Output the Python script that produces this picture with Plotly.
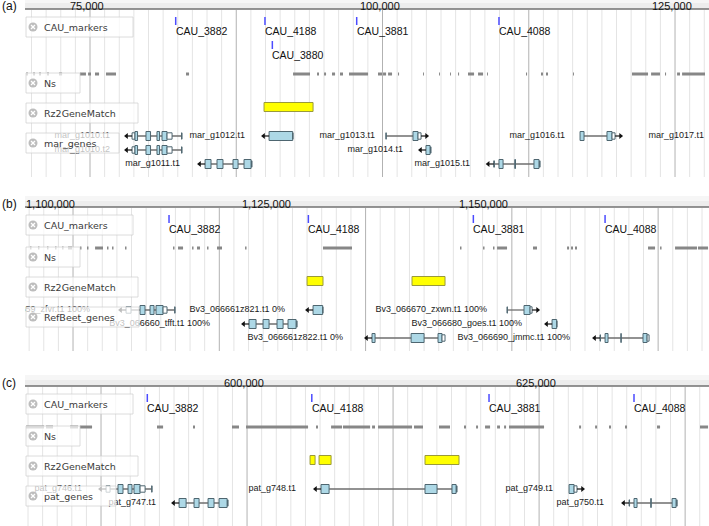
import math
import plotly.graph_objects as go

W, H = 709, 526
PANEL_LEFT = 25  # px where the genome view starts

# ---------------- data ----------------
panel_titles = ["(a)", "(b)", "(c)"]
view_start = [69700, 1097110, 581250]
view_end = [128160, 1176090, 639800]
ruler_ticks = [[75000, 100000, 125000], [1100000, 1125000, 1150000], [600000, 625000]]
ruler_labels = [["75,000", "100,000", "125,000"],
                ["1,100,000", "1,125,000", "1,150,000"],
                ["600,000", "625,000"]]
gene_tracks = ["mar_genes", "RefBeet_genes", "pat_genes"]

marker_names = [
    ["CAU_3882", "CAU_4188", "CAU_3880", "CAU_3881", "CAU_4088"],
    ["CAU_3882", "CAU_4188", "CAU_3881", "CAU_4088"],
    ["CAU_3882", "CAU_4188", "CAU_3881", "CAU_4088"],
]
marker_pos = [
    [82580, 90210, 90840, 98050, 110210],
    [1113740, 1129830, 1148880, 1164090],
    [591720, 605800, 620970, 633380],
]
marker_row = [[0, 0, 1, 0, 0], [0, 0, 0, 0], [0, 0, 0, 0]]

ns_a = [(69790, 69960), (70390, 70560), (70900, 71070), (71580, 71750), (72610, 72870),
        (74400, 74910), (75090, 75340), (75680, 76030), (76620, 77480), (83460, 83720),
        (92610, 94060), (94660, 94830), (95260, 95430), (95940, 96200), (96620, 96880),
        (97390, 99020), (99870, 100210), (100300, 100560), (100730, 101070), (101580, 101670),
        (103720, 103800), (105090, 105170), (106030, 106110), (106710, 106800), (107560, 108080),
        (108420, 108850), (109190, 109270), (112520, 112610), (113800, 113970), (114230, 114400),
        (116540, 116620), (121580, 122950), (123210, 123970), (124400, 124490), (125430, 125680),
        (125860, 127820)]
ns_b = [(1097690, 1097860), (1098610, 1098780), (1099650, 1099820), (1100580, 1100750),
        (1101390, 1101560), (1102080, 1102540), (1103460, 1103630), (1104270, 1104440),
        (1105200, 1106120), (1106580, 1106750), (1107160, 1107330), (1108660, 1108830),
        (1114200, 1114370), (1114780, 1115360), (1116400, 1116570), (1116970, 1117320),
        (1118130, 1118300), (1119280, 1119860), (1122520, 1122690), (1131520, 1134870),
        (1147340, 1147510), (1150000, 1150170), (1151150, 1151320), (1151620, 1152770),
        (1155770, 1156230), (1159700, 1159930), (1160160, 1160390), (1160620, 1160850),
        (1169050, 1169860), (1170440, 1170610), (1172170, 1174710), (1174820, 1175980)]
ns_c = [(581340, 582880), (583050, 583650), (585110, 585790), (585960, 586990),
        (592550, 593070), (595630, 595800), (598970, 599570), (600170, 605480),
        (606160, 606330), (607450, 608390), (608470, 610790), (610960, 611210),
        (611470, 614380), (614550, 615320), (616690, 617630), (618830, 619000),
        (619860, 620030), (620630, 621060), (621660, 621910), (622260, 622430),
        (622680, 625680), (628680, 628850), (630050, 630220), (631240, 631410),
        (632610, 632780), (635350, 635610), (639030, 639720)]
ns_segments = [ns_a, ns_b, ns_c]

rz2_matches = [
    [(90130, 94320)],
    [(1129680, 1131520), (1141800, 1145610)],
    [(605650, 606080), (606420, 607450), (615490, 618400)],
]

# genes: name, row, strand, label end, exons (kind C=CDS / U=UTR, start, end)
genes_a = [
    dict(name="mar_g1010.t1", row=0, strand="-", label_end=76970,
         exons=[("U", 78850, 79100), ("C", 79100, 79320), ("C", 80040, 80430), ("C", 80980, 81200),
                ("C", 81410, 81840), ("U", 81840, 82270), ("U", 83080, 83120)]),
    dict(name="mar_g1010.t2", row=1, strand="-", label_end=76970,
         exons=[("U", 78850, 79100), ("C", 79100, 79320), ("C", 80040, 80430), ("C", 80980, 81200),
                ("C", 81410, 81840), ("U", 81840, 82270), ("U", 83080, 83120)]),
    dict(name="mar_g1012.t1", row=0, strand="-", label_end=88500,
         exons=[("C", 90560, 92580), ("U", 92570, 92610)]),
    dict(name="mar_g1013.t1", row=0, strand="+", label_end=99620,
         exons=[("U", 100540, 100580), ("C", 102860, 103290), ("U", 103290, 103550)]),
    dict(name="mar_g1014.t1", row=1, strand="-", label_end=102010,
         exons=[("C", 103970, 104320), ("U", 104360, 104400)]),
    dict(name="mar_g1011.t1", row=2, strand="-", label_end=82950,
         exons=[("C", 85090, 85600), ("C", 86110, 86620), ("C", 87480, 87910),
                ("C", 88420, 89020), ("U", 89060, 89100)]),
    dict(name="mar_g1015.t1", row=2, strand="-", label_end=107740,
         exons=[("U", 109760, 109820), ("C", 110210, 110560), ("C", 111560, 111620),
                ("C", 113200, 113630), ("U", 113680, 113720)]),
    dict(name="mar_g1016.t1", row=0, strand="+", label_end=115860,
         exons=[("C", 117140, 117480), ("C", 119440, 119870), ("U", 119870, 120130)]),
    dict(name="mar_g1017.t1", row=0, strand="+", label_end=127740,
         exons=[("C", 129000, 129500), ("C", 131000, 131400)]),
]
genes_b = [
    dict(name="Bv3_066659_zfvr.t1 100%", row=0, strand="-", label_end=1104620,
         exons=[("U", 1108780, 1109350), ("C", 1110390, 1110970), ("C", 1111550, 1112010),
                ("C", 1112240, 1113050), ("U", 1113050, 1113510), ("U", 1114390, 1114440)]),
    dict(name="Bv3_066661z821.t1 0%", row=0, strand="-", label_end=1127140,
         exons=[("C", 1130370, 1131480), ("U", 1131480, 1131520)]),
    dict(name="Bv3_066670_zxwn.t1 100%", row=0, strand="+", label_end=1150460,
         exons=[("U", 1152770, 1152810), ("C", 1154730, 1155430), ("U", 1155430, 1155660)]),
    dict(name="Bv3_066660_tfft.t1 100%", row=1, strand="-", label_end=1118480,
         exons=[("C", 1122980, 1123790), ("C", 1124600, 1125290), ("C", 1126210, 1126910),
                ("C", 1127480, 1128410), ("U", 1128480, 1128520)]),
    dict(name="Bv3_066680_goes.t1 100%", row=1, strand="-", label_end=1154500,
         exons=[("C", 1157970, 1158500), ("U", 1158500, 1158540)]),
    dict(name="Bv3_066661z822.t1 0%", row=2, strand="-", label_end=1133830,
         exons=[("C", 1137180, 1137530), ("C", 1141690, 1143190), ("C", 1144800, 1145260),
                ("U", 1145260, 1145610)]),
    dict(name="Bv3_066690_jmmc.t1 100%", row=2, strand="-", label_end=1160040,
         exons=[("U", 1163510, 1163560), ("C", 1164090, 1164430), ("C", 1165910, 1165960),
                ("C", 1168470, 1168940), ("U", 1168940, 1169170)]),
]
genes_c = [
    dict(name="pat_g746.t1", row=0, strand="-", label_end=586130,
         exons=[("U", 588190, 588530), ("C", 589210, 589640), ("C", 590070, 590410),
                ("C", 590580, 591100), ("U", 591100, 591530), ("U", 592090, 592130)]),
    dict(name="pat_g748.t1", row=0, strand="-", label_end=604450,
         exons=[("C", 606590, 607280), ("C", 615490, 616520), ("C", 617800, 618150),
                ("U", 618190, 618230)]),
    dict(name="pat_g749.t1", row=0, strand="+", label_end=626450,
         exons=[("C", 627820, 628250), ("U", 628250, 628500)]),
    dict(name="pat_g747.t1", row=1, strand="-", label_end=592470,
         exons=[("C", 594440, 595040), ("C", 595720, 596150), ("C", 596920, 597430),
                ("C", 597860, 598550), ("U", 598590, 598630)]),
    dict(name="pat_g750.t1", row=1, strand="-", label_end=630820,
         exons=[("U", 632960, 633000), ("C", 633380, 633640), ("C", 634810, 634860),
                ("C", 636640, 636980), ("U", 637030, 637070)]),
]
genes_all = [genes_a, genes_b, genes_c]

# ---------------- styling / layout ----------------
base_y = [9, 207, 386]          # pixel row of each ruler line
grid_origin = [75256, 1102656, 600257]
grid_step = [1250, 1689, 1250]
label_box_right = {"CAU_markers": 133, "Ns": 80, "Rz2GeneMatch": 138,
                   "mar_genes": 119, "RefBeet_genes": 139, "pat_genes": 116}

FONT = "Liberation Sans, Arial, sans-serif"
LFONT = "DejaVu Sans, Verdana, sans-serif"

fig = go.Figure()
shapes = []
annots = []
late_shapes = []

def px(xp):
    return xp / W

for i in range(3):
    xr = "x" if i == 0 else f"x{i+1}"
    bpp = (view_end[i] - view_start[i]) / (W - PANEL_LEFT)
    b = base_y[i]
    nrows = max(marker_row[i]) + 1
    ns_y = b + 17 + 24 * nrows
    grid_bottom = min(ns_y + 103, H)

    # ruler
    shapes.append(dict(type="rect", xref="paper", yref="y", x0=px(PANEL_LEFT), x1=1,
                       y0=b - 11, y1=b, fillcolor="#ededed", line=dict(width=0), layer="above"))
    shapes.append(dict(type="rect", xref="paper", yref="y", x0=px(PANEL_LEFT), x1=1,
                       y0=b - 11, y1=b - 6, fillcolor="#f6f6f6", line=dict(width=0), layer="above"))
    shapes.append(dict(type="line", xref="paper", yref="y", x0=px(PANEL_LEFT), x1=1,
                       y0=b, y1=b, line=dict(color="#707070", width=1.5), layer="above"))
    for t, lab in zip(ruler_ticks[i], ruler_labels[i]):
        annots.append(dict(x=t, y=b - 3.5, xref=xr, yref="y", text=lab, showarrow=False,
                           xanchor="center", yanchor="middle",
                           font=dict(family=FONT, size=11, color="#111")))
    annots.append(dict(x=0, y=b - 3, xref="paper", yref="y", text=panel_titles[i], showarrow=False,
                       xanchor="left", yanchor="middle", font=dict(family=FONT, size=12, color="#111")))

    # grid
    kmin = math.ceil((view_start[i] + bpp * 2 - grid_origin[i]) / grid_step[i])
    kmax = math.floor((view_end[i] - grid_origin[i]) / grid_step[i])
    gx_min, gy_min, gx_maj, gy_maj = [], [], [], []
    for k in range(kmin, kmax + 1):
        gx = grid_origin[i] + k * grid_step[i]
        if k % 10 == 0:
            gx_maj += [gx, gx, None]; gy_maj += [b + 1, grid_bottom, None]
        else:
            gx_min += [gx, gx, None]; gy_min += [b + 1, grid_bottom, None]
    fig.add_trace(go.Scatter(x=gx_min, y=gy_min, mode="lines", xaxis=xr, yaxis="y",
                             line=dict(color="#e4e4e4", width=1), hoverinfo="skip"))
    fig.add_trace(go.Scatter(x=gx_maj, y=gy_maj, mode="lines", xaxis=xr, yaxis="y",
                             line=dict(color="#b2b2b2", width=1), hoverinfo="skip"))

    # markers
    for name, pos, row in zip(marker_names[i], marker_pos[i], marker_row[i]):
        y0 = b + 8 + 24 * row
        shapes.append(dict(type="line", xref=xr, yref="y", x0=pos, x1=pos, y0=y0, y1=y0 + 8,
                           line=dict(color="#4b4bff", width=1.5), layer="above"))
        annots.append(dict(x=pos, y=y0 + 14, xref=xr, yref="y", text=name, showarrow=False,
                           xanchor="left", yanchor="middle", xshift=-2,
                           font=dict(family=FONT, size=10.5, color="#111")))

    # Ns
    for s, e in ns_segments[i]:
        shapes.append(dict(type="rect", xref=xr, yref="y", x0=s, x1=e, y0=ns_y - 1.5, y1=ns_y + 1.5,
                           fillcolor="#878787", line=dict(width=0), layer="above"))

    # Rz2GeneMatch
    rz_y = ns_y + 33
    for s, e in rz2_matches[i]:
        shapes.append(dict(type="rect", xref=xr, yref="y", x0=s, x1=e, y0=rz_y - 4.5, y1=rz_y + 4.5,
                           fillcolor="#ffff00", line=dict(color="#9a9a3a", width=1), layer="above"))

    # genes
    lab_x, lab_y, lab_t = [], [], []
    head_l_x, head_l_y, head_r_x, head_r_y = [], [], [], []
    for g in genes_all[i]:
        gy = ns_y + 62 + 14 * g["row"]
        gs = min(e[1] for e in g["exons"])
        ge = max(e[2] for e in g["exons"])
        shapes.append(dict(type="line", xref=xr, yref="y", x0=gs, x1=ge, y0=gy, y1=gy,
                           line=dict(color="#6e6e6e", width=1.3), layer="above"))
        for kind, s, e in g["exons"]:
            hh = 4.5 if kind == "C" else 3.2
            shapes.append(dict(type="rect", xref=xr, yref="y", x0=s, x1=e, y0=gy - hh, y1=gy + hh,
                               fillcolor="#add8e6" if kind == "C" else "#ffffff",
                               line=dict(color="#4e6670", width=1), layer="above"))
        if g["strand"] == "-":
            shapes.append(dict(type="line", xref=xr, yref="y", x0=gs - 5 * bpp, x1=gs, y0=gy, y1=gy,
                               line=dict(color="#111", width=1.2), layer="above"))
            head_l_x.append(gs - 5.5 * bpp); head_l_y.append(gy)
        else:
            shapes.append(dict(type="line", xref=xr, yref="y", x0=ge, x1=ge + 5 * bpp, y0=gy, y1=gy,
                               line=dict(color="#111", width=1.2), layer="above"))
            head_r_x.append(ge + 5.5 * bpp); head_r_y.append(gy)
        lab_x.append(g["label_end"]); lab_y.append(gy); lab_t.append(g["name"])
    fig.add_trace(go.Scatter(x=lab_x, y=lab_y, text=lab_t, mode="text", xaxis=xr, yaxis="y",
                             textposition="middle left", hoverinfo="skip",
                             textfont=dict(family=FONT, size=9, color="#1a1a1a")))
    fig.add_trace(go.Scatter(x=head_l_x, y=head_l_y, mode="markers", xaxis=xr, yaxis="y",
                             marker=dict(symbol="triangle-left", size=5, color="#111"), hoverinfo="skip"))
    fig.add_trace(go.Scatter(x=head_r_x, y=head_r_y, mode="markers", xaxis=xr, yaxis="y",
                             marker=dict(symbol="triangle-right", size=5, color="#111"), hoverinfo="skip"))

    # track labels
    tracks = [("CAU_markers", b + 18), ("Ns", ns_y + 9), ("Rz2GeneMatch", ns_y + 39),
              (gene_tracks[i], ns_y + 69)]
    for tname, ty in tracks:
        late_shapes.append(dict(type="rect", xref="paper", yref="y", x0=px(26), x1=px(label_box_right[tname]),
                                y0=ty - 10, y1=ty + 10, fillcolor="rgba(255,255,255,0.72)",
                                line=dict(color="rgba(205,205,205,0.7)", width=1), layer="above"))
        late_shapes.append(dict(type="circle", xref="paper", yref="y", x0=px(28.5), x1=px(37.5),
                                y0=ty - 4.5, y1=ty + 4.5, fillcolor="#bdbdbd", line=dict(width=0),
                                layer="above"))
        for dx1, dy1 in [(-2, -2), (-2, 2)]:
            late_shapes.append(dict(type="line", xref="paper", yref="y", x0=px(33 + dx1), x1=px(33 - dx1),
                                    y0=ty + dy1, y1=ty - dy1, line=dict(color="white", width=1.3),
                                    layer="above"))
        annots.append(dict(x=px(42), y=ty, xref="paper", yref="y", text=tname, showarrow=False,
                           xanchor="left", yanchor="middle",
                           font=dict(family=LFONT, size=9.5, color="#3a3a3a")))

layout_axes = {}
for i in range(3):
    key = "xaxis" if i == 0 else f"xaxis{i+1}"
    ax = dict(domain=[PANEL_LEFT / W, 1], range=[view_start[i], view_end[i]], visible=False,
              fixedrange=True, anchor="y", showgrid=False, zeroline=False)
    if i > 0:
        ax["overlaying"] = "x"
    layout_axes[key] = ax

fig.update_layout(
    width=W, height=H, margin=dict(l=0, r=0, t=0, b=0),
    paper_bgcolor="white", plot_bgcolor="white", showlegend=False,
    yaxis=dict(range=[H, 0], domain=[0, 1], visible=False, fixedrange=True,
               showgrid=False, zeroline=False),
    shapes=shapes + late_shapes, annotations=annots,
    **layout_axes,
)
fig.write_html("out.html", config={"displayModeBar": False, "staticPlot": True},
               post_script="document.body.style.margin='0';document.body.style.overflow='hidden';")
